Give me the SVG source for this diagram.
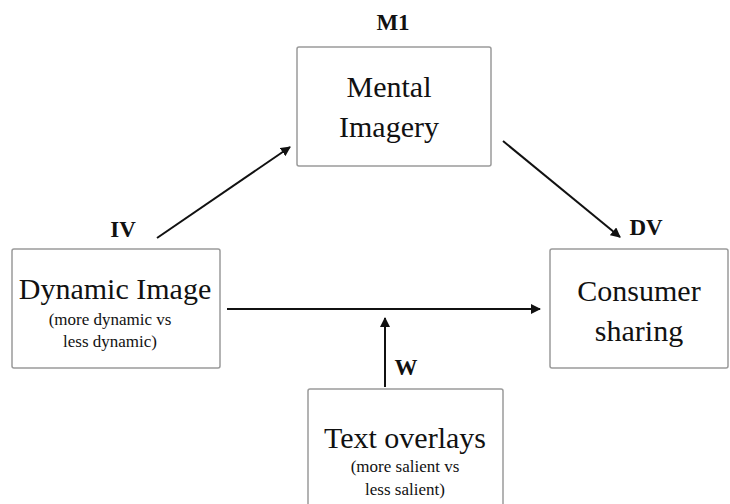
<svg xmlns="http://www.w3.org/2000/svg" width="730" height="504" viewBox="0 0 730 504">
<style>
.box{fill:#fff;stroke:#9a9a9a;stroke-width:1.5}
.t{font-family:"Liberation Serif","Times New Roman",serif;fill:#111;text-anchor:middle}
.big{font-size:30px}
.small{font-size:17px}
.lab{font-size:23px;font-weight:bold}
.c{stroke:#111;stroke-width:2;fill:none;marker-end:url(#ah)}
</style>
<defs>
<marker id="ah" viewBox="0 0 10 10" refX="9" refY="5" markerWidth="5" markerHeight="5" orient="auto" markerUnits="strokeWidth">
<path d="M0,0 L10,5 L0,10 z" fill="#111"/>
</marker>
</defs>
<rect width="730" height="504" fill="#fff"/>
<g id="connectors">
<line class="c" x1="157" y1="238" x2="290" y2="147"/>
<line class="c" x1="503" y1="141" x2="620" y2="237"/>
<line class="c" x1="227" y1="309" x2="540" y2="309"/>
<line class="c" x1="385" y1="387" x2="385" y2="318"/>
</g>
<g id="m1">
<rect class="box" x="297" y="47" width="194" height="119" rx="2"/>
<text class="t lab" x="393" y="30">M1</text>
<text class="t big" x="389" y="97">Mental</text>
<text class="t big" x="389" y="137">Imagery</text>
</g>
<g id="iv">
<rect class="box" x="12" y="249" width="208" height="119" rx="2"/>
<text class="t lab" x="123" y="237">IV</text>
<text class="t big" x="115" y="299">Dynamic Image</text>
<text class="t small" x="110" y="325">(more dynamic vs</text>
<text class="t small" x="110" y="347">less dynamic)</text>
</g>
<g id="dv">
<rect class="box" x="550" y="249" width="178" height="119" rx="2"/>
<text class="t lab" x="646" y="235">DV</text>
<text class="t big" x="639" y="301">Consumer</text>
<text class="t big" x="639" y="341">sharing</text>
</g>
<g id="w">
<rect class="box" x="308" y="389" width="195" height="130" rx="2"/>
<text class="t lab" x="406" y="375">W</text>
<text class="t big" x="405" y="448">Text overlays</text>
<text class="t small" x="405" y="472">(more salient vs</text>
<text class="t small" x="405" y="495">less salient)</text>
</g>
</svg>
